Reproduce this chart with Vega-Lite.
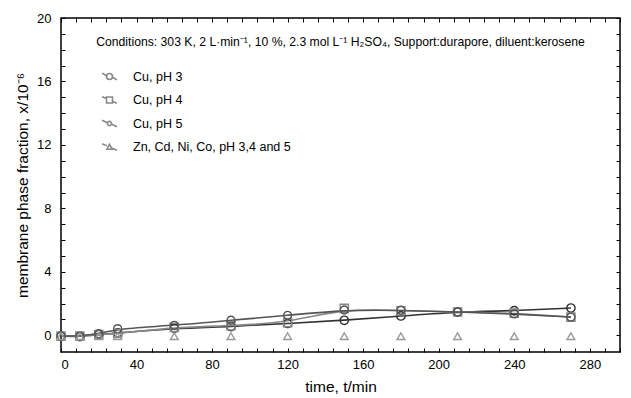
{
  "$schema": "https://vega.github.io/schema/vega-lite/v6.json",
  "autosize": "none",
  "width": 559,
  "height": 334,
  "padding": {"left": 61, "top": 18, "right": 11, "bottom": 46},
  "config": {
    "font": "Liberation Sans",
    "view": {"stroke": "#000", "strokeWidth": 1.5},
    "axis": {"grid": false, "domain": false, "labelFont": "Liberation Sans", "titleFont": "Liberation Sans", "labelColor": "#000", "titleColor": "#000", "tickColor": "#000", "labelFontSize": 13, "titleFontSize": 15.5, "titleFontWeight": "normal"}
  },
  "title": {
    "text": "Conditions: 303 K, 2 L·min⁻¹, 10 %, 2.3 mol L⁻¹ H₂SO₄, Support:durapore, diluent:kerosene",
    "fontSize": 12.2, "fontWeight": "normal", "font": "Liberation Sans", "color": "#000",
    "anchor": "middle", "frame": "group", "offset": -36
  },
  "data": {"values": [
    {"t": 0, "v": -0.05, "s": "Cu, pH 3"}, {"t": 10, "v": -0.08, "s": "Cu, pH 3"}, {"t": 20, "v": 0.05, "s": "Cu, pH 3"}, {"t": 30, "v": 0.15, "s": "Cu, pH 3"}, {"t": 60, "v": 0.45, "s": "Cu, pH 3"}, {"t": 90, "v": 0.55, "s": "Cu, pH 3"}, {"t": 120, "v": 0.75, "s": "Cu, pH 3"}, {"t": 150, "v": 0.95, "s": "Cu, pH 3"}, {"t": 180, "v": 1.22, "s": "Cu, pH 3"}, {"t": 210, "v": 1.47, "s": "Cu, pH 3"}, {"t": 240, "v": 1.55, "s": "Cu, pH 3"}, {"t": 270, "v": 1.72, "s": "Cu, pH 3"},
    {"t": 0, "v": -0.05, "s": "Cu, pH 4"}, {"t": 10, "v": -0.05, "s": "Cu, pH 4"}, {"t": 20, "v": 0.05, "s": "Cu, pH 4"}, {"t": 30, "v": 0.12, "s": "Cu, pH 4"}, {"t": 60, "v": 0.5, "s": "Cu, pH 4"}, {"t": 90, "v": 0.6, "s": "Cu, pH 4"}, {"t": 120, "v": 0.8, "s": "Cu, pH 4"}, {"t": 150, "v": 1.7, "s": "Cu, pH 4"}, {"t": 180, "v": 1.55, "s": "Cu, pH 4"}, {"t": 210, "v": 1.47, "s": "Cu, pH 4"}, {"t": 240, "v": 1.4, "s": "Cu, pH 4"}, {"t": 270, "v": 1.15, "s": "Cu, pH 4"},
    {"t": 0, "v": -0.05, "s": "Cu, pH 5"}, {"t": 10, "v": -0.05, "s": "Cu, pH 5"}, {"t": 20, "v": 0.1, "s": "Cu, pH 5"}, {"t": 30, "v": 0.42, "s": "Cu, pH 5"}, {"t": 60, "v": 0.63, "s": "Cu, pH 5"}, {"t": 90, "v": 0.95, "s": "Cu, pH 5"}, {"t": 120, "v": 1.26, "s": "Cu, pH 5"}, {"t": 150, "v": 1.6, "s": "Cu, pH 5"}, {"t": 180, "v": 1.58, "s": "Cu, pH 5"}, {"t": 210, "v": 1.47, "s": "Cu, pH 5"}, {"t": 240, "v": 1.35, "s": "Cu, pH 5"}, {"t": 270, "v": 1.15, "s": "Cu, pH 5"},
    {"t": 0, "v": -0.05, "s": "Zn, Cd, Ni, Co, pH 3,4 and 5"}, {"t": 10, "v": -0.05, "s": "Zn, Cd, Ni, Co, pH 3,4 and 5"}, {"t": 20, "v": -0.05, "s": "Zn, Cd, Ni, Co, pH 3,4 and 5"}, {"t": 30, "v": -0.05, "s": "Zn, Cd, Ni, Co, pH 3,4 and 5"}, {"t": 60, "v": -0.05, "s": "Zn, Cd, Ni, Co, pH 3,4 and 5"}, {"t": 90, "v": -0.05, "s": "Zn, Cd, Ni, Co, pH 3,4 and 5"}, {"t": 120, "v": -0.05, "s": "Zn, Cd, Ni, Co, pH 3,4 and 5"}, {"t": 150, "v": -0.05, "s": "Zn, Cd, Ni, Co, pH 3,4 and 5"}, {"t": 180, "v": -0.05, "s": "Zn, Cd, Ni, Co, pH 3,4 and 5"}, {"t": 210, "v": -0.05, "s": "Zn, Cd, Ni, Co, pH 3,4 and 5"}, {"t": 240, "v": -0.05, "s": "Zn, Cd, Ni, Co, pH 3,4 and 5"}, {"t": 270, "v": -0.05, "s": "Zn, Cd, Ni, Co, pH 3,4 and 5"}
  ]},
  "resolve": {"axis": {"x": "independent", "y": "independent"}, "scale": {"shape": "independent", "size": "independent"}},
  "layer": [
    {
      "transform": [{"filter": "datum.s !== 'Zn, Cd, Ni, Co, pH 3,4 and 5'"}],
      "mark": {"type": "line", "interpolate": "basis", "strokeWidth": 1.6},
      "encoding": {
        "x": {"field": "t", "type": "quantitative", "scale": {"domain": [0, 296], "nice": false, "zero": false},
              "axis": {"title": "time, t/min", "values": [0,8,16,24,32,40,48,56,64,72,80,88,96,104,112,120,128,136,144,152,160,168,176,184,192,200,208,216,224,232,240,248,256,264,272,280,288,296], "labelExpr": "datum.value % 40 === 0 ? datum.label : ''", "tickSize": -4, "labelPadding": 10, "titlePadding": 8}},
        "y": {"field": "v", "type": "quantitative", "scale": {"domain": [-1.05, 20], "nice": false, "zero": false},
              "axis": {"title": "membrane phase fraction, x/10⁻⁶", "values": [0,1,2,3,4,5,6,7,8,9,10,11,12,13,14,15,16,17,18,19,20], "labelExpr": "datum.value % 4 === 0 ? datum.label : ''", "tickSize": -4, "labelPadding": 14, "titlePadding": 6}},
        "stroke": {"field": "s", "type": "nominal", "legend": null,
                  "scale": {"domain": ["Cu, pH 3", "Cu, pH 4", "Cu, pH 5", "Zn, Cd, Ni, Co, pH 3,4 and 5"], "range": ["#333333", "#888888", "#555555", "#999999"]}}
      }
    },
    {
      "mark": {"type": "point", "filled": false, "strokeWidth": 1.4, "opacity": 1},
      "encoding": {
        "x": {"field": "t", "type": "quantitative", "axis": {"orient": "top", "title": null, "labels": false, "values": [0,8,16,24,32,40,48,56,64,72,80,88,96,104,112,120,128,136,144,152,160,168,176,184,192,200,208,216,224,232,240,248,256,264,272,280,288,296], "tickSize": -4}},
        "y": {"field": "v", "type": "quantitative", "axis": {"orient": "right", "title": null, "labels": false, "values": [0,1,2,3,4,5,6,7,8,9,10,11,12,13,14,15,16,17,18,19,20], "tickSize": -4}},
        "stroke": {"field": "s", "type": "nominal", "legend": null},
        "shape": {"field": "s", "type": "nominal", "legend": null,
                  "scale": {"domain": ["Cu, pH 3", "Cu, pH 4", "Cu, pH 5", "Zn, Cd, Ni, Co, pH 3,4 and 5"], "range": ["circle", "square", "circle", "triangle-up"]}},
        "size": {"field": "s", "type": "nominal", "legend": null,
                 "scale": {"domain": ["Cu, pH 3", "Cu, pH 4", "Cu, pH 5", "Zn, Cd, Ni, Co, pH 3,4 and 5"], "range": [70, 60, 30, 30]}}
      }
    },
    {
      "transform": [{"filter": "datum.t === 0"}],
      "mark": {"type": "point", "filled": false, "strokeWidth": 1.6, "opacity": 0, "size": 220},
      "encoding": {
        "x": {"field": "t", "type": "quantitative", "axis": null},
        "y": {"field": "v", "type": "quantitative", "axis": null},
        "stroke": {"field": "s", "type": "nominal", "legend": {
                    "title": null, "orient": "none", "legendX": 40, "legendY": 50,
                    "labelFontSize": 12.5, "labelFont": "Liberation Sans", "labelColor": "#000",
                    "rowPadding": 7.5, "symbolSize": 220, "symbolStrokeWidth": 1.6, "labelOffset": 15, "symbolOpacity": 1}},
        "shape": {"field": "s", "type": "nominal",
                  "scale": {"domain": ["Cu, pH 3", "Cu, pH 4", "Cu, pH 5", "Zn, Cd, Ni, Co, pH 3,4 and 5"], "range": [
                    "M-1,-0.45 L-0.4,-0.1 M0.4,0.1 L1,0.45 M0.4,0 A0.4,0.4 0 1,1 -0.4,0 A0.4,0.4 0 1,1 0.4,0",
                    "M-1,-0.45 L-0.4,-0.2 M0.4,0.2 L1,0.45 M-0.4,-0.4 L0.4,-0.4 L0.4,0.4 L-0.4,0.4 Z",
                    "M-1,-0.45 L-0.28,-0.1 M0.28,0.1 L1,0.45 M0.28,0 A0.28,0.28 0 1,1 -0.28,0 A0.28,0.28 0 1,1 0.28,0",
                    "M-1,-0.45 L-0.35,-0.15 M0.35,0.15 L1,0.45 M0,-0.35 L0.35,0.3 L-0.35,0.3 Z"]},
                  "legend": {
                    "title": null, "orient": "none", "legendX": 40, "legendY": 50,
                    "labelFontSize": 12.5, "labelFont": "Liberation Sans", "labelColor": "#000",
                    "rowPadding": 7.5, "symbolSize": 220, "symbolStrokeWidth": 1.6, "labelOffset": 15, "symbolOpacity": 1}}
      }
    }
  ]
}
